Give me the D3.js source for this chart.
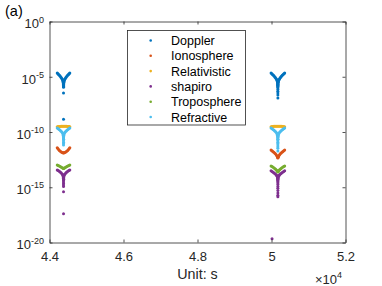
<!DOCTYPE html>
<meta charset="utf-8">
<style>
    body { margin: 0; background: #fff; }
    svg { font-family: "Liberation Sans", Arial, Helvetica, sans-serif; }
    .axis path, .axis line { stroke: #262626; stroke-width: 0.8; }
    .axis text { fill: #262626; font-size: 13px; }
</style>
<svg width="382" height="286"></svg>
<script src="https://cdn.jsdelivr.net/npm/d3@7"></script>
<script>
    // tick labels
    var xTicks = [44000, 46000, 48000, 50000, 52000];
    var xTickLabels = ["4.4", "4.6", "4.8", "5", "5.2"];
    var yTicks = [1e-20, 1e-15, 1e-10, 1e-5, 1];
    var yTickExp = ["-20", "-15", "-10", "-5", "0"];

    var seriesNames = ["Doppler", "Ionosphere", "Relativistic", "shapiro", "Troposphere", "Refractive"];
    var seriesColors = ["#0072BD", "#D95319", "#EDB120", "#7E2F8E", "#77AC30", "#4DBEEE"];

    // [time (s), value], two passes
    var doppler = [
        [44209, 2.2e-5], [44228, 1.9e-5], [44247, 1.6e-5], [44266, 1.35e-5], [44285, 1.15e-5], [44303, 9.6e-6],
        [44320, 8e-6], [44336, 6.6e-6], [44349, 5.5e-6], [44359, 4.6e-6], [44367, 3.8e-6], [44372, 3.1e-6],
        [44375, 2.5e-6], [44377, 2e-6], [44378, 1.6e-6], [44378.5, 1.3e-6], [44379, 1.1e-6], [44379, 3.4e-7],
        [44379, 1.4e-9],
        [44549, 2.2e-5], [44530, 1.9e-5], [44511, 1.6e-5], [44492, 1.35e-5], [44473, 1.15e-5], [44455, 9.6e-6],
        [44438, 8e-6], [44422, 6.6e-6], [44409, 5.5e-6], [44399, 4.6e-6], [44391, 3.8e-6], [44386, 3.1e-6],
        [44383, 2.5e-6], [44381, 2e-6], [44380, 1.6e-6], [44379.5, 1.3e-6],
        [49988, 2.2e-5], [50008, 1.9e-5], [50029, 1.6e-5], [50050, 1.35e-5], [50070, 1.15e-5], [50090, 9.6e-6],
        [50108, 8e-6], [50125, 6.6e-6], [50139, 5.5e-6], [50150, 4.6e-6], [50158, 3.8e-6], [50164, 3.1e-6],
        [50168, 2.5e-6], [50170, 2e-6], [50171, 1.6e-6], [50171.5, 1.25e-6], [50172, 9.5e-7], [50172, 7e-7],
        [50172, 4.8e-7], [50172, 3.3e-7], [50172, 2.2e-7], [50172, 1.2e-7],
        [50356, 2.2e-5], [50336, 1.9e-5], [50315, 1.6e-5], [50294, 1.35e-5], [50274, 1.15e-5], [50254, 9.6e-6],
        [50236, 8e-6], [50219, 6.6e-6], [50205, 5.5e-6], [50194, 4.6e-6], [50186, 3.8e-6], [50180, 3.1e-6],
        [50176, 2.5e-6], [50174, 2e-6], [50173, 1.6e-6], [50172.5, 1.25e-6]
    ];

    var ionosphere = [
        [44209, 3.8e-12], [44225, 3.2e-12], [44245, 2.6e-12], [44268, 2.15e-12], [44292, 1.8e-12], [44318, 1.55e-12],
        [44345, 1.38e-12], [44365, 1.3e-12], [44379, 1.27e-12], [44393, 1.3e-12], [44413, 1.38e-12], [44440, 1.55e-12],
        [44466, 1.8e-12], [44490, 2.15e-12], [44513, 2.6e-12], [44533, 3.2e-12], [44549, 3.8e-12],
        [49988, 2.35e-12], [50012, 2.0e-12], [50036, 1.74e-12], [50060, 1.5e-12], [50084, 1.26e-12], [50106, 1.05e-12],
        [50126, 8.6e-13], [50144, 7e-13], [50158, 5.8e-13], [50167, 5e-13], [50172, 4.5e-13], [50177, 5e-13],
        [50186, 5.8e-13], [50200, 7e-13], [50218, 8.6e-13], [50238, 1.05e-12], [50260, 1.26e-12], [50284, 1.5e-12],
        [50308, 1.74e-12], [50332, 2.0e-12], [50356, 2.35e-12]
    ];

    var relativistic = [
        [44209, 3.0e-10], [44235, 3.1e-10], [44260, 3.2e-10], [44285, 3.2e-10], [44310, 3.25e-10], [44335, 3.25e-10],
        [44360, 3.25e-10], [44385, 3.25e-10], [44410, 3.25e-10], [44435, 3.25e-10], [44460, 3.25e-10], [44485, 3.2e-10],
        [44510, 3.2e-10], [44530, 3.1e-10], [44549, 3.0e-10],
        [49988, 3.0e-10], [50014, 3.1e-10], [50040, 3.2e-10], [50066, 3.25e-10], [50092, 3.3e-10], [50118, 3.3e-10],
        [50145, 3.3e-10], [50172, 3.3e-10], [50199, 3.3e-10], [50226, 3.3e-10], [50252, 3.3e-10], [50278, 3.25e-10],
        [50304, 3.2e-10], [50330, 3.1e-10], [50356, 3.0e-10]
    ];

    var shapiro = [
        [44209, 3.7e-14], [44235, 3.2e-14], [44262, 2.75e-14], [44288, 2.35e-14], [44312, 2e-14], [44334, 1.7e-14],
        [44352, 1.42e-14], [44365, 1.2e-14], [44373, 1e-14], [44377, 8.2e-15], [44378, 6.6e-15], [44378.5, 5.2e-15],
        [44379, 4e-15], [44379, 3e-15], [44379, 2.2e-15], [44379, 1.6e-15], [44379, 1.15e-15], [44379, 4e-16],
        [44379, 3.9e-18],
        [44549, 3.7e-14], [44523, 3.2e-14], [44496, 2.75e-14], [44470, 2.35e-14], [44446, 2e-14], [44424, 1.7e-14],
        [44406, 1.42e-14], [44393, 1.2e-14], [44385, 1e-14], [44381, 8.2e-15], [44380, 6.6e-15], [44379.5, 5.2e-15],
        [49988, 3.1e-14], [50015, 2.7e-14], [50043, 2.3e-14], [50070, 1.95e-14], [50096, 1.65e-14], [50119, 1.4e-14],
        [50138, 1.2e-14], [50152, 1e-14], [50162, 8.4e-15], [50167, 7e-15], [50170, 5.8e-15], [50171, 4.8e-15],
        [50172, 3.9e-15], [50172, 3.1e-15], [50172, 2.4e-15], [50172, 1.8e-15], [50172, 1.2e-15], [50172, 8e-16],
        [50172, 5e-16], [50172, 3e-16], [50172, 1.9e-16], [50172, 1.35e-16], [50015, 2.2e-20],
        [50356, 3.1e-14], [50329, 2.7e-14], [50301, 2.3e-14], [50274, 1.95e-14], [50248, 1.65e-14], [50225, 1.4e-14],
        [50206, 1.2e-14], [50192, 1e-14], [50182, 8.4e-15], [50177, 7e-15], [50174, 5.8e-15], [50173, 4.8e-15]
    ];

    var troposphere = [
        [44209, 1.05e-13], [44235, 9.5e-14], [44262, 8.5e-14], [44290, 7.5e-14], [44318, 6.6e-14], [44345, 5.8e-14],
        [44365, 5.3e-14], [44379, 5e-14], [44393, 5.3e-14], [44413, 5.8e-14], [44440, 6.6e-14], [44468, 7.5e-14],
        [44496, 8.5e-14], [44523, 9.5e-14], [44549, 1.05e-13],
        [49988, 8.5e-14], [50015, 7.4e-14], [50043, 6.4e-14], [50070, 5.5e-14], [50096, 4.7e-14], [50119, 4e-14],
        [50138, 3.4e-14], [50152, 3e-14], [50163, 2.7e-14], [50172, 2.45e-14], [50181, 2.7e-14], [50192, 3e-14],
        [50206, 3.4e-14], [50225, 4e-14], [50248, 4.7e-14], [50274, 5.5e-14], [50301, 6.4e-14], [50329, 7.4e-14],
        [50356, 8.5e-14]
    ];

    var refractive = [
        [44209, 2.3e-10], [44235, 2.0e-10], [44262, 1.7e-10], [44288, 1.45e-10], [44312, 1.2e-10], [44334, 1.0e-10],
        [44352, 8.2e-11], [44365, 6.6e-11], [44373, 5.2e-11], [44377, 4e-11], [44378, 3e-11], [44378.5, 2.2e-11],
        [44379, 1.6e-11], [44379, 1.2e-11], [44379, 9e-12], [44379, 6.7e-12],
        [44549, 2.3e-10], [44523, 2.0e-10], [44496, 1.7e-10], [44470, 1.45e-10], [44446, 1.2e-10], [44424, 1.0e-10],
        [44406, 8.2e-11], [44393, 6.6e-11], [44385, 5.2e-11], [44381, 4e-11], [44380, 3e-11], [44379.5, 2.2e-11],
        [49988, 2.3e-10], [50015, 2.0e-10], [50043, 1.7e-10], [50070, 1.45e-10], [50096, 1.2e-10], [50119, 1.0e-10],
        [50138, 8.2e-11], [50152, 6.6e-11], [50162, 5.2e-11], [50167, 4e-11], [50170, 3e-11], [50171, 2.2e-11],
        [50172, 1.6e-11], [50172, 1.2e-11], [50172, 9e-12], [50172, 6.5e-12], [50172, 4.6e-12], [50172, 3.3e-12],
        [50172, 1.9e-12],
        [50356, 2.3e-10], [50329, 2.0e-10], [50301, 1.7e-10], [50274, 1.45e-10], [50248, 1.2e-10], [50225, 1.0e-10],
        [50206, 8.2e-11], [50192, 6.6e-11], [50182, 5.2e-11], [50177, 4e-11], [50174, 3e-11], [50173, 2.2e-11]
    ];

    var seriesData = [doppler, ionosphere, relativistic, shapiro, troposphere, refractive];

    var svg = d3.select("svg");
    // plot box edges (avoid the name "top", it is window.top)
    var boxLeft = 49.5, boxRight = 345.5, boxTop = 21.5, boxBottom = 242.5;

    var x = d3.scaleLinear().domain([44000, 52000]).range([boxLeft, boxRight]);
    var y = d3.scaleLog().domain([1e-20, 1]).range([boxBottom, boxTop]);

    // data first, axes drawn over
    var plot = svg.append("g");
    seriesData.forEach(function (pts, i) {
        plot.append("g")
            .attr("fill", seriesColors[i])
            .selectAll("circle")
            .data(pts)
            .enter()
            .append("circle")
            .attr("cx", function (d) { return x(d[0]); })
            .attr("cy", function (d) { return y(d[1]); })
            .attr("r", 1.5);
    });

    //axes, ticks pointing inwards like matlab
    svg.append("g").attr("class", "axis")
        .attr("transform", "translate(0," + boxBottom + ")")
        .call(d3.axisBottom(x).tickValues(xTicks).tickSize(-3).tickSizeOuter(0).tickPadding(9.5)
            .tickFormat(function (d, i) { return xTickLabels[i]; }));
    svg.append("g").attr("class", "axis")
        .attr("transform", "translate(0," + boxTop + ")")
        .call(d3.axisTop(x).tickValues(xTicks).tickSize(-3).tickSizeOuter(0).tickFormat(""));

    var yAxis = svg.append("g").attr("class", "axis")
        .attr("transform", "translate(" + boxLeft + ",0)")
        .call(d3.axisLeft(y).tickValues(yTicks).tickSize(-3).tickSizeOuter(0).tickFormat(""));
    svg.append("g").attr("class", "axis")
        .attr("transform", "translate(" + boxRight + ",0)")
        .call(d3.axisRight(y).tickValues(yTicks).tickSize(-3).tickSizeOuter(0).tickFormat(""));

    // 10^n labels
    var yLab = yAxis.selectAll(".tick").append("text")
        .attr("x", -5.5)
        .attr("y", 6.4)
        .attr("text-anchor", "end");
    yLab.append("tspan").text("10");
    yLab.append("tspan")
        .attr("dy", -5.8)
        .style("font-size", "9px")
        .text(function (d, i) { return yTickExp[i]; });

    // exponent note and x label
    var mult = svg.append("text")
        .attr("x", 315)
        .attr("y", 284)
        .attr("fill", "#262626")
        .style("font-size", "13px");
    mult.append("tspan").text("\u00d710");
    mult.append("tspan").attr("dy", -6).style("font-size", "9px").text("4");

    svg.append("text")
        .attr("x", (boxLeft + boxRight) / 2)
        .attr("y", 279)
        .attr("text-anchor", "middle")
        .attr("fill", "#262626")
        .style("font-size", "14.3px")
        .text("Unit: s");

    svg.append("text")
        .attr("x", 5)
        .attr("y", 15.5)
        .attr("fill", "#000")
        .style("font-size", "14.5px")
        .text("(a)");

    // legend
    var legend = svg.append("g");
    legend.append("rect")
        .attr("x", 127.5).attr("y", 30.5)
        .attr("width", 118).attr("height", 94.5)
        .attr("fill", "#fff")
        .attr("stroke", "#262626")
        .attr("stroke-width", 0.8);
    var item = legend.selectAll("g.item")
        .data(seriesNames)
        .enter()
        .append("g")
        .attr("class", "item")
        .attr("transform", function (d, i) { return "translate(0," + (40.5 + i * 15.3) + ")"; });
    item.append("circle")
        .attr("cx", 150.7)
        .attr("r", 1.3)
        .attr("fill", function (d, i) { return seriesColors[i]; });
    item.append("text")
        .attr("x", 171)
        .attr("dy", "0.36em")
        .attr("fill", "#000")
        .style("font-size", "12.5px")
        .text(function (d) { return d; });
</script>
